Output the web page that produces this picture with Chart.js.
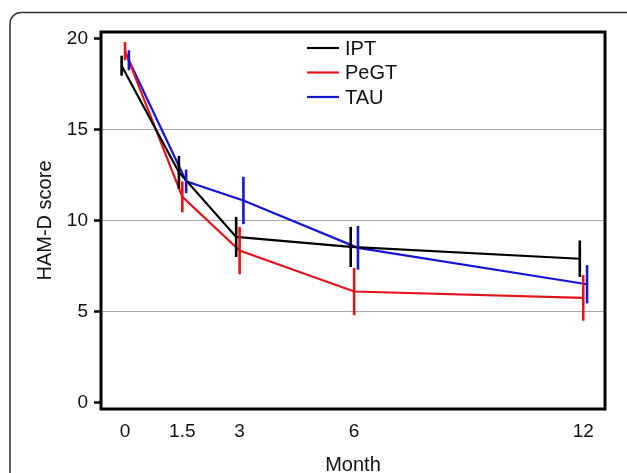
<!DOCTYPE html>
<html>
<head>
<meta charset="utf-8">
<script src="https://cdn.jsdelivr.net/npm/chart.js@4"></script>
<style>
  body { margin: 0; background: #fff; }
  canvas { display: block; }
</style>
</head>
<body>
<canvas id="hamdChart" width="627" height="473"></canvas>
<script>
const months = [0, 1.5, 3, 6, 12];
const yTicks = [0, 5, 10, 15, 20];

const iptMean = [18.5, 12.65, 9.1, 8.55, 7.9];
const iptErr = [0.55, 0.9, 1.1, 1.1, 1.0];
const pegtMean = [19.3, 11.3, 8.35, 6.1, 5.75];
const pegtErr = [0.5, 0.85, 1.3, 1.3, 1.25];
const tauMean = [18.8, 12.15, 11.1, 8.5, 6.5];
const tauErr = [0.55, 0.65, 1.3, 1.2, 1.05];

const ctx = document.getElementById("hamdChart").getContext("2d");
const font = "'Liberation Sans', Arial, sans-serif";

function makeSeries(label, means, errs, color, shift) {
    return {
        label: label,
        data: months.map((m, i) => ({ x: m + shift, y: means[i] })),
        errors: errs,
        borderColor: color,
        backgroundColor: color,
        borderWidth: 2.2,
        pointRadius: 0,
        tension: 0
    };
}

// white background + rounded outer frame
const framePlugin = {
    id: "frame",
    beforeDraw(chart) {
        const c = chart.ctx;
        c.save();
        c.fillStyle = "#fff";
        c.fillRect(0, 0, chart.width, chart.height);
        c.strokeStyle = "#333";
        c.lineWidth = 1.5;
        c.beginPath();
        c.roundRect(10, 12.5, 640, 500, 11);
        c.stroke();
        c.restore();
    }
};

// vertical error bars without caps
const errorBarPlugin = {
    id: "errorBars",
    afterDatasetsDraw(chart) {
        const c = chart.ctx;
        const xs = chart.scales.x, ys = chart.scales.y;
        c.save();
        chart.data.datasets.forEach(ds => {
            c.strokeStyle = ds.borderColor;
            c.lineWidth = 2.6;
            ds.data.forEach((p, i) => {
                const px = xs.getPixelForValue(p.x);
                c.beginPath();
                c.moveTo(px, ys.getPixelForValue(p.y - ds.errors[i]));
                c.lineTo(px, ys.getPixelForValue(p.y + ds.errors[i]));
                c.stroke();
            });
        });
        c.restore();
    }
};

// box around plot + legend inside
const boxLegendPlugin = {
    id: "boxLegend",
    afterDraw(chart) {
        const c = chart.ctx;
        const a = chart.chartArea;
        c.save();
        c.strokeStyle = "#000";
        c.lineWidth = 3;
        c.strokeRect(a.left, a.top, a.right - a.left, a.bottom - a.top);

        c.font = "20px " + font;
        c.textBaseline = "middle";
        chart.data.datasets.forEach((ds, i) => {
            const y = 48 + i * 24.5;
            c.strokeStyle = ds.borderColor;
            c.lineWidth = 2.2;
            c.beginPath();
            c.moveTo(307, y);
            c.lineTo(339, y);
            c.stroke();
            c.fillStyle = "#111";
            c.fillText(ds.label, 345, y + 1);
        });
        c.restore();
    }
};

new Chart(ctx, {
    type: "line",
    data: {
        datasets: [
            makeSeries("IPT", iptMean, iptErr, "#000000", -0.09),
            makeSeries("PeGT", pegtMean, pegtErr, "#e3131b", 0),
            makeSeries("TAU", tauMean, tauErr, "#1515d6", 0.1)
        ]
    },
    options: {
        responsive: false,
        animation: false,
        layout: { padding: { left: 0, top: 32, right: 22, bottom: 0 } },
        plugins: {
            legend: { display: false },
            tooltip: { enabled: false }
        },
        scales: {
            x: {
                type: "linear",
                min: -0.63,
                max: 12.57,
                afterBuildTicks: s => { s.ticks = months.map(v => ({ value: v })); },
                afterFit: s => { s.height = 64; },
                grid: { display: false },
                border: { display: false },
                ticks: {
                    color: "#111",
                    font: { family: font, size: 19 },
                    padding: 3,
                    maxRotation: 0,
                    callback: v => String(v)
                },
                title: {
                    display: true,
                    text: "Month",
                    color: "#111",
                    font: { family: font, size: 20, lineHeight: 1 },
                    padding: { top: 0, bottom: -2 }
                }
            },
            y: {
                min: -0.35,
                max: 20.35,
                afterBuildTicks: s => { s.ticks = yTicks.map(v => ({ value: v })); },
                afterFit: s => { s.width = 101; },
                grid: {
                    color: c => (c.tick && (c.tick.value === 0 || c.tick.value === 20)) ? "rgba(0,0,0,0)" : "#a8a8a8",
                    lineWidth: 1,
                    tickColor: "#000",
                    tickWidth: 2.5,
                    tickLength: 7
                },
                border: { display: false },
                ticks: {
                    color: "#111",
                    font: { family: font, size: 19 },
                    padding: 6
                },
                title: {
                    display: true,
                    text: "HAM-D score",
                    color: "#111",
                    font: { family: font, size: 20, lineHeight: 1 },
                    padding: { top: 35, bottom: 0 }
                }
            }
        }
    },
    plugins: [framePlugin, errorBarPlugin, boxLegendPlugin]
});
</script>
</body>
</html>
